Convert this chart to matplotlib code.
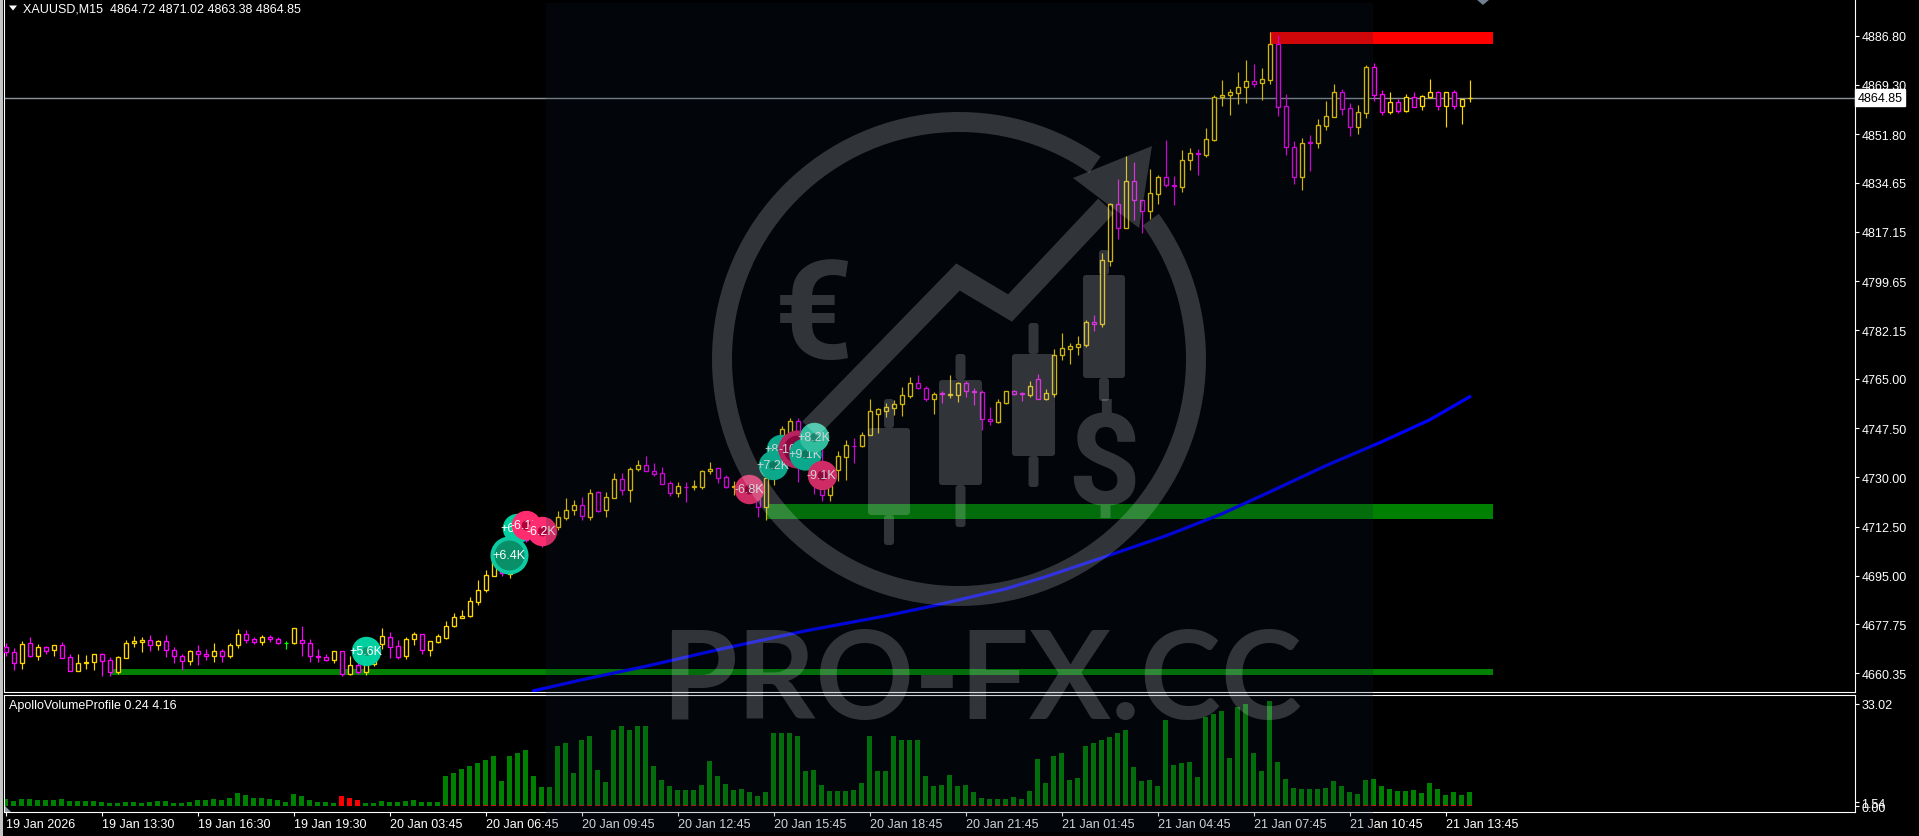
import matplotlib
matplotlib.use("Agg")
import matplotlib.pyplot as plt
from matplotlib.patches import Rectangle, Wedge, Polygon, FancyBboxPatch
from matplotlib.transforms import blended_transform_factory

plt.rcParams['font.family'] = ['Liberation Sans', 'DejaVu Sans']

opens = [4669.6, 4667.9, 4663.9, 4671.1, 4666.7, 4669.6, 4668.6, 4670.3, 4666.1, 4661.3,
         4663.9, 4664.5, 4667.1, 4665.0, 4660.8, 4666.0, 4671.1, 4671.6, 4672.1, 4670.3,
         4671.8, 4668.6, 4666.4, 4664.9, 4668.2, 4667.1, 4666.7, 4668.2, 4666.7, 4670.3,
         4674.2, 4672.5, 4671.6, 4673.2, 4672.5, 4671.3, 4671.1, 4672.1, 4671.1, 4666.4,
         4666.1, 4665.3, 4668.2, 4660.0, 4663.2, 4660.8, 4663.8, 4670.9, 4673.2, 4670.0,
         4666.4, 4672.5, 4674.3, 4668.8, 4671.7, 4673.0, 4677.1, 4680.2, 4680.6, 4685.9,
         4689.9, 4695.1, 4698.1, 4695.7, 4699.9, 4710.5, 4711.7, 4711.7, 4711.1, 4712.5,
         4715.7, 4718.3, 4720.1, 4716.0, 4724.7, 4718.3, 4722.8, 4729.3, 4725.4, 4732.8,
         4734.3, 4732.4, 4731.5, 4727.9, 4724.6, 4726.6, 4726.4, 4726.7, 4732.2, 4733.2,
         4730.0, 4726.7, 4726.8, 4724.9, 4722.3, 4719.3, 4729.6, 4735.8, 4744.3, 4750.1,
         4741.8, 4740.0, 4732.9, 4723.7, 4732.7, 4737.3, 4741.2, 4741.2, 4745.1, 4752.6,
         4753.7, 4754.7, 4756.1, 4759.0, 4763.4, 4761.6, 4757.9, 4759.8, 4759.3, 4759.3,
         4763.4, 4760.6, 4760.2, 4750.6, 4749.7, 4756.5, 4760.5, 4759.9, 4759.3, 4764.8,
         4757.8, 4759.7, 4773.6, 4775.7, 4776.4, 4777.1, 4785.2, 4784.6, 4806.9, 4826.9,
         4818.7, 4835.1, 4828.4, 4824.7, 4830.7, 4836.5, 4833.7, 4833.2, 4842.5, 4845.2,
         4844.5, 4849.6, 4865.1, 4865.6, 4866.5, 4868.7, 4870.8, 4869.9, 4871.2, 4883.8,
         4861.7, 4847.2, 4836.8, 4849.1, 4848.8, 4854.9, 4858.1, 4866.7, 4861.0, 4854.5,
         4859.5, 4875.6, 4866.0, 4859.8, 4863.2, 4860.2, 4864.9, 4862.0, 4865.2, 4866.7,
         4862.0, 4866.7, 4862.0, 4864.72]
closes = [4667.9, 4663.9, 4670.7, 4666.6, 4669.6, 4668.4, 4670.3, 4666.0, 4661.3, 4663.9,
          4664.3, 4667.1, 4664.9, 4660.8, 4666.1, 4671.1, 4671.8, 4672.1, 4670.3, 4671.8,
          4668.6, 4666.4, 4664.9, 4668.2, 4667.1, 4666.7, 4668.2, 4666.7, 4670.3, 4674.2,
          4672.4, 4671.6, 4673.2, 4672.6, 4671.1, 4671.3, 4676.4, 4671.1, 4666.4, 4666.3,
          4665.3, 4668.2, 4660.0, 4663.2, 4660.8, 4663.6, 4669.5, 4673.7, 4669.9, 4666.1,
          4672.5, 4674.3, 4668.8, 4671.8, 4673.6, 4677.1, 4680.3, 4680.7, 4686.0, 4689.9,
          4695.2, 4700.4, 4696.1, 4699.9, 4709.9, 4707.9, 4708.7, 4707.0, 4713.5, 4715.8,
          4718.3, 4720.1, 4716.1, 4724.4, 4718.1, 4722.9, 4729.3, 4725.4, 4732.9, 4734.3,
          4732.4, 4731.3, 4727.8, 4724.6, 4726.8, 4726.5, 4726.8, 4732.2, 4733.1, 4729.8,
          4726.7, 4727.0, 4724.7, 4722.6, 4719.3, 4729.7, 4735.8, 4747.2, 4750.1, 4740.0,
          4738.3, 4729.4, 4723.7, 4726.9, 4737.4, 4741.5, 4741.1, 4745.2, 4753.4, 4754.2,
          4754.8, 4756.1, 4759.1, 4763.4, 4761.6, 4757.8, 4759.5, 4759.7, 4759.6, 4763.5,
          4760.8, 4760.4, 4750.6, 4749.9, 4756.6, 4760.5, 4759.7, 4759.6, 4762.3, 4757.9,
          4759.8, 4773.4, 4775.8, 4776.5, 4777.2, 4785.0, 4784.6, 4807.1, 4826.9, 4818.7,
          4835.1, 4828.3, 4824.7, 4830.9, 4836.5, 4833.9, 4833.3, 4842.6, 4845.1, 4844.7,
          4850.0, 4865.1, 4865.8, 4866.9, 4868.7, 4870.8, 4869.7, 4871.3, 4883.8, 4861.6,
          4847.2, 4836.8, 4848.6, 4848.8, 4855.0, 4858.2, 4866.7, 4860.9, 4854.5, 4859.6,
          4875.6, 4865.9, 4859.8, 4863.2, 4860.2, 4864.9, 4861.6, 4865.3, 4866.7, 4862.0,
          4866.7, 4862.0, 4864.5, 4864.85]
highs = [4671.2, 4669.3, 4671.9, 4673.3, 4670.8, 4670.2, 4670.3, 4671.4, 4667.1, 4667.3,
         4666.9, 4667.1, 4667.6, 4666.1, 4666.4, 4672.1, 4673.7, 4673.3, 4674.0, 4672.1,
         4674.0, 4669.8, 4667.1, 4668.7, 4670.5, 4669.0, 4671.2, 4669.0, 4671.2, 4676.1,
         4675.7, 4673.3, 4674.0, 4674.0, 4673.3, 4671.9, 4676.4, 4677.2, 4672.6, 4669.0,
         4667.1, 4668.2, 4668.2, 4666.7, 4666.1, 4669.0, 4671.0, 4676.5, 4675.1, 4672.1,
         4673.3, 4675.1, 4674.3, 4671.8, 4674.3, 4678.9, 4681.9, 4682.8, 4687.4, 4693.6,
         4697.0, 4702.2, 4699.9, 4702.2, 4711.7, 4712.3, 4713.5, 4713.5, 4715.2, 4718.1,
         4722.6, 4721.9, 4723.1, 4725.8, 4725.0, 4724.8, 4731.6, 4731.6, 4733.6, 4736.2,
         4737.5, 4735.0, 4733.6, 4728.7, 4728.3, 4728.3, 4729.0, 4732.5, 4735.4, 4733.3,
         4730.7, 4728.6, 4727.3, 4725.9, 4725.9, 4730.3, 4737.2, 4748.2, 4751.1, 4751.1,
         4743.6, 4743.6, 4740.8, 4732.9, 4739.3, 4743.2, 4744.1, 4746.0, 4757.8, 4754.5,
         4756.4, 4757.6, 4762.1, 4765.7, 4766.4, 4762.5, 4760.3, 4760.8, 4766.3, 4764.0,
         4764.1, 4761.6, 4760.9, 4755.0, 4757.7, 4760.5, 4761.0, 4760.3, 4764.1, 4766.7,
         4761.3, 4775.6, 4781.3, 4777.7, 4780.2, 4785.9, 4787.6, 4809.7, 4827.4, 4835.9,
         4844.1, 4842.1, 4828.4, 4839.5, 4837.4, 4849.8, 4837.0, 4846.2, 4847.0, 4846.6,
         4854.05, 4865.8, 4871.1, 4867.9, 4874.0, 4878.2, 4876.8, 4875.4, 4888.1, 4887.1,
         4866.1, 4849.4, 4850.5, 4851.6, 4857.2, 4863.6, 4869.7, 4867.9, 4862.9, 4862.2,
         4876.4, 4877.1, 4867.5, 4866.8, 4864.2, 4866.1, 4866.8, 4865.6, 4871.4, 4867.1,
         4866.7, 4867.5, 4864.5, 4871.02]
lows = [4666.7, 4661.7, 4661.9, 4666.3, 4665.3, 4667.4, 4666.6, 4665.7, 4661.3, 4661.3,
        4661.9, 4661.7, 4659.4, 4659.4, 4660.3, 4666.0, 4669.8, 4668.1, 4668.3, 4668.6,
        4666.2, 4664.1, 4661.7, 4663.5, 4663.5, 4665.3, 4664.3, 4664.3, 4666.0, 4669.5,
        4671.2, 4670.7, 4670.5, 4671.6, 4670.7, 4669.0, 4670.9, 4666.7, 4664.5, 4664.5,
        4664.8, 4664.1, 4659.6, 4659.8, 4660.3, 4659.8, 4663.0, 4669.0, 4665.8, 4665.5,
        4665.5, 4670.3, 4667.1, 4666.4, 4671.0, 4672.6, 4677.0, 4679.9, 4680.4, 4684.5,
        4689.2, 4694.9, 4694.9, 4694.2, 4699.3, 4707.0, 4707.5, 4705.4, 4709.9, 4711.3,
        4715.0, 4716.7, 4715.0, 4715.0, 4717.8, 4716.0, 4722.7, 4723.9, 4721.4, 4732.4,
        4732.4, 4730.3, 4727.7, 4723.4, 4723.0, 4721.3, 4725.5, 4725.7, 4731.1, 4728.0,
        4726.1, 4723.8, 4724.1, 4721.8, 4716.0, 4715.0, 4727.4, 4734.7, 4741.8, 4728.5,
        4732.9, 4724.0, 4721.7, 4721.7, 4728.8, 4729.1, 4735.2, 4740.8, 4745.0, 4745.7,
        4751.4, 4752.1, 4751.9, 4758.3, 4761.3, 4757.2, 4752.5, 4756.4, 4758.2, 4756.7,
        4758.4, 4755.8, 4746.8, 4748.6, 4749.4, 4756.1, 4759.3, 4757.2, 4758.6, 4757.8,
        4757.6, 4758.6, 4771.8, 4770.2, 4773.4, 4776.3, 4782.0, 4783.4, 4805.0, 4814.6,
        4818.7, 4821.3, 4816.8, 4821.7, 4827.1, 4833.1, 4826.7, 4831.3, 4839.1, 4837.4,
        4843.8, 4849.5, 4861.9, 4858.7, 4862.6, 4863.0, 4868.7, 4864.1, 4869.7, 4858.3,
        4844.5, 4834.2, 4832.0, 4838.8, 4846.9, 4853.3, 4858.1, 4858.7, 4851.2, 4851.9,
        4857.6, 4863.6, 4858.7, 4859.0, 4859.5, 4859.7, 4861.6, 4860.4, 4864.7, 4860.4,
        4854.4, 4860.8, 4855.5, 4863.38]

volumes = [2.4, 1.7, 2.4, 2.4, 2.0, 2.0, 2.0, 2.4, 1.7, 1.7,
           1.7, 1.7, 1.4, 1.1, 1.1, 1.4, 1.4, 1.1, 1.4, 1.7,
           1.7, 1.1, 1.1, 1.4, 2.0, 2.0, 2.4, 2.0, 2.7, 4.3,
           3.6, 2.7, 2.7, 2.4, 2.0, 1.4, 4.0, 3.3, 2.0, 1.4,
           1.4, 1.1, 3.3, 2.7, 2.0, 1.1, 1.1, 1.7, 1.4, 1.4,
           1.7, 2.0, 1.4, 1.4, 1.4, 9.8, 10.7, 12.0, 13.0, 13.9,
           14.9, 16.2, 8.1, 16.2, 17.2, 18.1, 9.8, 6.2, 6.2, 19.4,
           20.4, 10.7, 21.3, 22.6, 11.7, 7.8, 24.5, 25.8, 24.5, 25.8,
           25.8, 13.0, 8.5, 6.5, 5.3, 5.3, 5.3, 6.9, 14.6, 9.8,
           7.2, 5.3, 5.6, 4.6, 3.3, 4.6, 23.6, 23.6, 23.6, 22.6,
           11.4, 11.7, 6.9, 4.9, 4.9, 4.9, 5.3, 7.5, 22.6, 11.4,
           11.4, 22.6, 21.3, 21.3, 21.3, 9.8, 6.5, 6.9, 10.1, 6.5,
           6.9, 4.6, 2.7, 2.4, 2.4, 2.4, 3.0, 2.4, 4.9, 15.2,
           7.5, 16.2, 17.2, 8.5, 9.1, 19.4, 20.4, 21.3, 22.3, 23.6,
           24.5, 12.6, 8.1, 8.5, 6.5, 27.8, 13.3, 13.9, 14.3, 9.4,
           28.7, 29.7, 30.7, 15.5, 31.8, 32.9, 17.2, 11.4, 33.9, 14.3,
           8.8, 5.9, 5.6, 5.6, 5.6, 5.9, 8.1, 6.5, 4.6, 4.0,
           8.5, 8.8, 6.5, 5.6, 4.9, 4.9, 5.3, 4.3, 7.5, 5.6,
           3.6, 4.6, 3.6, 4.6]
red_bars = [42, 43, 44]
sell_start = 55
sell_level = 0.3

ma_bars = [66, 72, 80, 90, 100, 110, 116, 125, 130, 137, 145, 152, 158, 165, 172, 178, 183]
ma_values = [4654.2, 4658.1, 4662.9, 4669.4, 4675.5, 4680.8, 4684.4, 4690.4, 4694.7,
             4701.4, 4709.2, 4717.0, 4724.8, 4734.1, 4742.6, 4750.4, 4758.6]

# zones: first bar, last bar, price low, price high, colour
zone_start = [13, 95, 158]
zone_end = [185.9, 185.9, 185.9]
zone_low = [4659.8, 4715.2, 4883.9]
zone_high = [4661.9, 4720.5, 4888.1]
zone_color = ['#008000', '#008000', '#ff0000']

bubble_text = ['+5.6K', '+6.3K', '-6.1K', '-6.2K', '+6.4K', '-6.8K', '+8.1K', '+7.2K',
               '-10.2K', '+9.1K', '+8.2K', '-9.1K']
bubble_bar = [45.0, 63.95, 65.0, 67.0, 62.9, 92.95, 96.9, 95.95, 98.9, 99.9, 101.05, 102.0]
bubble_price = [4668.5, 4711.9, 4713.2, 4711.1, 4702.5, 4725.7, 4740.1, 4734.4,
                4740.1, 4738.3, 4744.3, 4730.9]
bubble_size = [448, 448, 448, 448, 750, 448, 448, 448, 750, 540, 448, 448]
bubble_inner = [40, 40, 50, 50, 466, 50, 40, 40, 400, 40, 40, 50]
bubble_color = ['#00d0a0', '#00d0a0', '#ff2d70', '#ff2d70', '#0ccaa2', '#ff2d70', '#0ccaa2',
                '#0ccaa2', '#e0256a', '#0ccaa2', '#38e4b8', '#ff2d70']
bubble_dark = ['#0a9a70', '#0a9a70', '#b0003c', '#b0003c', '#0a9068', '#b0003c', '#0a9068',
               '#0a9068', '#a80040', '#0a9068', '#20a080', '#b0003c']

price_ticks = [4886.80, 4869.30, 4851.80, 4834.65, 4817.15, 4799.65, 4782.15, 4765.00,
               4747.50, 4730.00, 4712.50, 4695.00, 4677.75, 4660.35]
date_labels = ['19 Jan 2026', '19 Jan 13:30', '19 Jan 16:30', '19 Jan 19:30', '20 Jan 03:45',
               '20 Jan 06:45', '20 Jan 09:45', '20 Jan 12:45', '20 Jan 15:45', '20 Jan 18:45',
               '20 Jan 21:45', '21 Jan 01:45', '21 Jan 04:45', '21 Jan 07:45', '21 Jan 10:45',
               '21 Jan 13:45']
date_bars = list(range(0, 181, 12))
last_price = 4864.85

W, H = 1919, 837


def px_axes(x0, y0, x1, y1, **kw):
    return fig.add_axes([x0 / W, 1 - y1 / H, (x1 - x0) / W, (y1 - y0) / H], **kw)


def style_axes(ax):
    ax.set_facecolor('black')
    for s in ax.spines.values():
        s.set_color('white')
        s.set_linewidth(0.8)
    ax.tick_params(colors='white', labelsize=9, length=3, width=0.8, pad=1.5)


fig = plt.figure(figsize=(W / 100, H / 100), dpi=100, facecolor='black')

# main chart
ax = px_axes(4, 0, 1855, 693)
style_axes(ax)
ax.spines['top'].set_visible(False)
ax.set_xlim(-0.209, 231.17)
ax.set_ylim(4653.78, 4899.83)
ax.yaxis.tick_right()
ax.set_yticks(price_ticks)
ax.set_yticklabels(['%.2f' % p for p in price_ticks])
ax.set_xticks([])

for i in range(len(zone_start)):
    ax.add_patch(Rectangle((zone_start[i], zone_low[i]), zone_end[i] - zone_start[i],
                           zone_high[i] - zone_low[i], color=zone_color[i], lw=0, zorder=1))

ax.axhline(last_price, color='#8a929a', lw=1, zorder=2)

x = list(range(len(opens)))
colors = []
for o, c in zip(opens, closes):
    if c > o:
        colors.append('#ffd700')
    elif c < o:
        colors.append('#ff00ff')
    else:
        colors.append('#00ff00')
tops = [max(o, c) for o, c in zip(opens, closes)]
bots = [min(o, c) for o, c in zip(opens, closes)]
ax.vlines(x, lows, highs, colors=colors, lw=0.85, zorder=3)
ax.bar(x, [t - b for t, b in zip(tops, bots)], bottom=bots, width=0.5, facecolor='black',
       edgecolor=colors, linewidth=0.95, zorder=4)

ax.plot(ma_bars, ma_values, color='#0000ff', lw=2.3, zorder=5)

for i in range(len(bubble_text)):
    ax.scatter(bubble_bar[i], bubble_price[i], s=bubble_size[i], color=bubble_color[i],
               linewidths=0, zorder=6 + i * 0.1)
    ax.scatter(bubble_bar[i], bubble_price[i], s=bubble_inner[i], color=bubble_dark[i],
               linewidths=0, zorder=6 + i * 0.1 + 0.01)
    ax.text(bubble_bar[i], bubble_price[i], bubble_text[i], color='white', fontsize=9,
            ha='center', va='center', zorder=6 + i * 0.1 + 0.02)

tr = blended_transform_factory(ax.transAxes, ax.transData)
ax.text(1.0013, last_price, '%.2f' % last_price, transform=tr, color='black', fontsize=9,
        va='center', ha='left', clip_on=False, zorder=20,
        bbox=dict(facecolor='white', edgecolor='white', pad=2))

# volume panel
ax2 = px_axes(4, 695.5, 1855, 813)
style_axes(ax2)
ax2.set_xlim(-0.209, 231.17)
ax2.set_ylim(-1.83, 35.95)
ax2.yaxis.tick_right()
ax2.set_yticks([33.02, 1.54, 0])
ax2.set_yticklabels(['33.02', '', '0.00'])
tr2 = blended_transform_factory(ax2.transAxes, ax2.transData)
ax2.text(1.0031, 0.6, '1.54', transform=tr2, color='white', fontsize=9, va='center',
         ha='left', clip_on=False)
ax2.set_xticks(date_bars)
ax2.set_xticklabels(date_labels, ha='left')
vol_colors = ['#ff0000' if i in red_bars else '#008000' for i in x]
ax2.bar(x, volumes, width=0.55, color=vol_colors, linewidth=0)
sell_vol = [sell_level if i >= sell_start else 0 for i in x]
ax2.bar(x, sell_vol, width=0.55, color='#d01010', linewidth=0)
ax2.text(0.0027, 1 - 10.5 / 117.5, 'ApolloVolumeProfile 0.24 4.16', color='white', fontsize=9,
         transform=ax2.transAxes, va='center')

# overlay: frame bits, header, watermark
ov = px_axes(0, 0, W, H, zorder=10)
ov.patch.set_alpha(0)
ov.set_xlim(0, W)
ov.set_ylim(H, 0)
ov.axis('off')

ov.add_patch(Rectangle((0, 0), 3, 837, color='#c4c4c4', lw=0))
ov.add_patch(Polygon([(9, 6.5), (17, 6.5), (13, 11.5)], color='white', lw=0))
ov.text(23, 9, 'XAUUSD,M15  4864.72 4871.02 4863.38 4864.85', color='white', fontsize=9,
        va='center', ha='left')
ov.add_patch(Polygon([(1476, 0), (1490, 0), (1483, 6)], color='#708090', lw=0))
ov.add_patch(Polygon([(5, 807), (5, 813), (11, 813)], color='#909aa4', lw=0))

ov.add_patch(Rectangle((546, 4), 827, 829, facecolor=(15 / 255, 35 / 255, 55 / 255, 0.2), lw=0))

wm_alpha = 0.19
wm = dict(color='white', alpha=wm_alpha, lw=0)
ov.add_patch(Wedge((959, 360), 247, -36, 305, width=20, **wm))
ov.plot([810, 958, 1010, 1106], [430, 278, 309, 207], color='white', alpha=wm_alpha, lw=15.5,
        solid_joinstyle='miter', solid_capstyle='butt')
ov.add_patch(Polygon([(1152, 147), (1073, 179), (1139, 229)], **wm))
for bx0, bx1, by0, by1, wt, wb in [(868, 910, 429, 516, 400, 546), (939, 982, 381, 486, 355, 528),
                                   (1012, 1055, 355, 457, 324, 488), (1083, 1125, 276, 379, 251, 402)]:
    ov.add_patch(FancyBboxPatch((bx0 + 2, by0 + 2), bx1 - bx0 - 4, by1 - by0 - 4,
                                boxstyle='round,pad=2,rounding_size=3', **wm))
    xm = (bx0 + bx1) / 2
    ov.add_patch(FancyBboxPatch((xm - 3, wt + 2), 6, by0 - wt - 4,
                                boxstyle='round,pad=2,rounding_size=3', **wm))
    ov.add_patch(FancyBboxPatch((xm - 3, by1 + 2), 6, wb - by1 - 4,
                                boxstyle='round,pad=2,rounding_size=3', **wm))
ov.text(1104, 470, '$', color='white', alpha=wm_alpha, fontsize=92, fontweight='bold',
        ha='center', va='center', family=['Roboto', 'DejaVu Sans'])
ov.text(814, 320, '\u20ac', color='white', alpha=wm_alpha, fontsize=100, fontweight='bold',
        ha='center', va='center', family=['Roboto', 'DejaVu Sans'])
ov.text(661, 719, 'PRO-FX.CC', color='white', alpha=wm_alpha, fontsize=88, fontweight='bold',
        ha='left', va='baseline', family=['Lato', 'Liberation Sans'])

fig.savefig('out.png', dpi=100, facecolor='black')
